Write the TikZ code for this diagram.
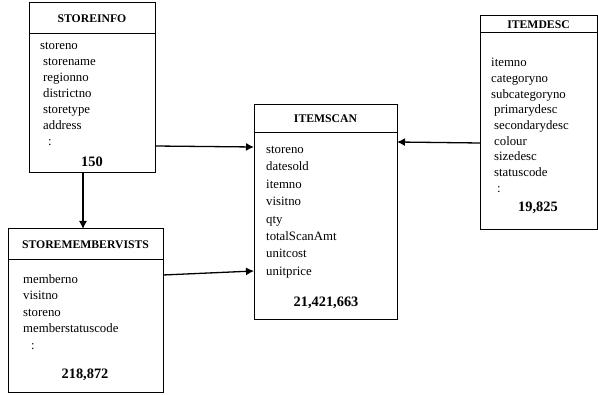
\documentclass[tikz,border=0pt]{standalone}
\usepackage{fontspec}
\setmainfont{Liberation Serif}
\usetikzlibrary{positioning,arrows.meta}

\begin{document}
\begin{tikzpicture}[x=1pt, y=-1pt]
        \tikzstyle{tablehead}=[draw, line width=1pt, outer sep=0pt, inner sep=0pt, font=\fontsize{11.7}{13}\selectfont\bfseries]
        \tikzstyle{tablebody}=[draw, line width=1pt, outer sep=0pt, inner sep=0pt]
        \tikzstyle{fields}=[anchor=north west, inner sep=0pt, align=left]
        \tikzstyle{rowcount}=[inner sep=0pt, font=\fontsize{14.4}{16}\selectfont\bfseries]
        \tikzstyle{link}=[line width=1.3pt, -{Latex[length=8pt,width=8pt]}]
        \useasboundingbox (0,0) rectangle (598,395);
        % tables
        \node [tablehead, minimum width=126pt, minimum height=31pt] (storeinfo) at (92,18.5) {STOREINFO};
        \node [tablebody, minimum width=126pt, minimum height=139pt, below=0pt of storeinfo] (storeinfo-body) {};
        \node [fields, font=\fontsize{12.8}{16}\selectfont] (storeinfo-fields) at (40,42) {storeno\\\hspace*{3pt}storename\\\hspace*{3pt}regionno\\\hspace*{3pt}districtno\\\hspace*{3pt}storetype\\\hspace*{3pt}address\\\hspace*{8pt}:};
        \node [rowcount] (storeinfo-count) at (92,162) {150};
        \node [tablehead, minimum width=155pt, minimum height=31pt] (smv) at (85.5,244.5) {STOREMEMBERVISTS};
        \node [tablebody, minimum width=155pt, minimum height=133pt, below=0pt of smv] (smv-body) {};
        \node [fields, font=\fontsize{12.8}{16.6}\selectfont] (smv-fields) at (23,274) {memberno\\visitno\\storeno\\memberstatuscode\\\hspace*{8pt}:};
        \node [rowcount] (smv-count) at (85,375) {218,872};
        \node [tablehead, minimum width=143pt, minimum height=28pt] (itemscan) at (325.5,119) {ITEMSCAN};
        \node [tablebody, minimum width=143pt, minimum height=187pt, below=0pt of itemscan] (itemscan-body) {};
        \node [fields, font=\fontsize{12.8}{17.4}\selectfont] (itemscan-fields) at (266,146) {storeno\\datesold\\itemno\\visitno\\qty\\totalScanAmt\\unitcost\\unitprice};
        \node [rowcount] (itemscan-count) at (326,303) {21,421,663};
        \node [tablehead, minimum width=117pt, minimum height=17pt] (itemdesc) at (538.5,24.5) {ITEMDESC};
        \node [tablebody, minimum width=117pt, minimum height=197pt, below=0pt of itemdesc] (itemdesc-body) {};
        \node [fields, font=\fontsize{12.8}{15.7}\selectfont] (itemdesc-fields) at (491,58) {itemno\\categoryno\\subcategoryno\\\hspace*{3pt}primarydesc\\\hspace*{3pt}secondarydesc\\\hspace*{3pt}colour\\\hspace*{3pt}sizedesc\\\hspace*{3pt}statuscode\\\hspace*{6pt}:};
        \node [rowcount] (itemdesc-count) at (538,208) {19,825};
        % links
        \draw [link] ([yshift=-42.5pt]storeinfo-body.east) -- ([yshift=79.5pt]itemscan-body.west);
        \draw [link] ([xshift=-9pt]storeinfo-body.south) -- ([xshift=-2.5pt]smv.north);
        \draw [link] ([yshift=51.5pt]smv-body.east) -- ([yshift=-44.5pt]itemscan-body.west);
        \draw [link] ([yshift=-11.5pt]itemdesc-body.west) -- ([yshift=84.5pt]itemscan-body.east);
    \end{tikzpicture}
\end{document}
